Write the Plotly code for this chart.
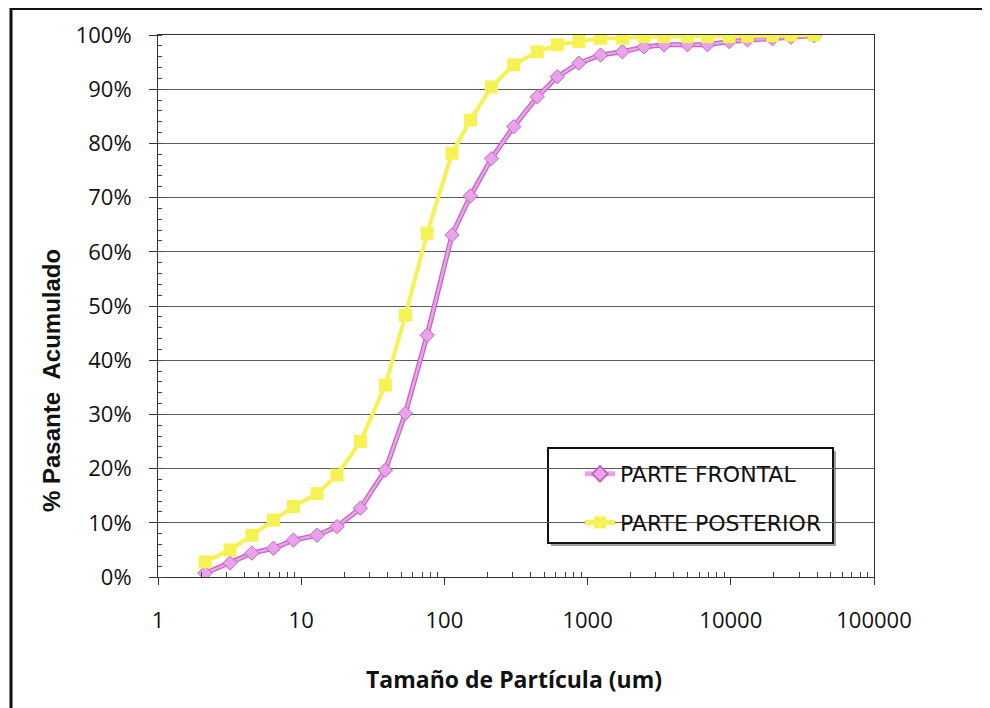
import plotly.graph_objects as go

# ---- data ----
tamano_um = [2.13, 3.19, 4.52, 6.4, 8.83, 12.9, 17.8, 25.9, 38.7, 53.4, 75.7, 113, 152, 213,
             305, 445, 614, 869, 1233, 1750, 2477, 3418, 4980, 6870, 9730, 13090, 19550,
             26300, 38280]
parte_frontal = [0.7, 2.6, 4.4, 5.3, 6.8, 7.7, 9.3, 12.7, 19.7, 30.2, 44.6, 63.1, 70.3, 77.2,
                 83.1, 88.6, 92.3, 94.8, 96.3, 96.9, 97.8, 98.2, 98.2, 98.2, 98.8, 99.1, 99.3,
                 99.6, 99.9]
parte_posterior = [2.8, 5.0, 7.7, 10.5, 13.0, 15.4, 18.8, 25.0, 35.4, 48.3, 63.4, 78.2, 84.3,
                   90.4, 94.5, 96.9, 98.2, 98.8, 99.4, 99.4, 99.7, 99.7, 99.7, 99.7, 99.7, 99.8,
                   99.9, 100, 100]
x_tickvals = [1, 10, 100, 1000, 10000, 100000]
x_ticktext = ["1", "10", "100", "1000", "10000", "100000"]
y_tickvals = [0, 10, 20, 30, 40, 50, 60, 70, 80, 90, 100]
y_ticktext = ["0%", "10%", "20%", "30%", "40%", "50%", "60%", "70%", "80%", "90%", "100%"]

# page body has an 8px margin: work in screen pixels and convert
OFF = 8
W, H = 990 - OFF, 708 - OFF
SL, SR, ST, SB = 158, 874, 35, 577          # plot area in screen pixels
L, R, T, B = SL - OFF, SR - OFF, ST - OFF, SB - OFF
pw, ph = R - L, B - T


def px_x(p):
    return (p - OFF - L) / pw


def px_y(p):
    return (B - (p - OFF)) / ph


PINK = "#eaa2ea"
PINK_EDGE = "#c266c2"
YELLOW = "#f7f254"

fig = go.Figure()
fig.add_trace(go.Scatter(
    x=tamano_um, y=parte_frontal, mode="lines", showlegend=False, hoverinfo="skip",
    line=dict(color=PINK_EDGE, width=5)))
fig.add_trace(go.Scatter(
    x=tamano_um, y=parte_frontal, mode="lines+markers", name="PARTE FRONTAL",
    legendgroup="a",
    line=dict(color=PINK, width=2.5),
    marker=dict(symbol="diamond", size=11, color=PINK, line=dict(color=PINK_EDGE, width=1))))
fig.add_trace(go.Scatter(
    x=tamano_um, y=parte_posterior, mode="lines+markers", name="PARTE POSTERIOR",
    legendgroup="b",
    line=dict(color=YELLOW, width=4),
    marker=dict(symbol="square", size=13, color=YELLOW)))

minor_x = [m * 10 ** d for d in range(0, 5) for m in range(2, 10)]

fig.update_xaxes(
    type="log", range=[0, 5], tickmode="array", tickvals=x_tickvals, ticktext=x_ticktext,
    showgrid=False, showline=True, linecolor="#333", linewidth=1, mirror=True,
    ticks="outside", ticklen=7, tickcolor="#333", ticklabelstandoff=17,
    tickfont=dict(family="Open Sans", size=22, color="#111"),
    minor=dict(tickmode="array", tickvals=minor_x, ticks="inside", ticklen=5,
               tickcolor="#444", showgrid=False),
    zeroline=False)
fig.update_yaxes(
    range=[0, 100], tickmode="array", tickvals=y_tickvals, ticktext=y_ticktext,
    showgrid=True, gridcolor="#5a5a5a", gridwidth=1,
    showline=True, linecolor="#333", linewidth=1, mirror=True,
    ticks="outside", ticklen=8, tickcolor="#333", ticklabelstandoff=13,
    tickfont=dict(family="Open Sans", size=22, color="#111"),
    minor=dict(dtick=2, ticks="inside", ticklen=4, tickcolor="#444", showgrid=False),
    zeroline=False)

fig.update_layout(
    width=W, height=H,
    margin=dict(l=L, r=W - R, t=T, b=H - B, pad=0),
    paper_bgcolor="white", plot_bgcolor="white",
    showlegend=True,
    legend=dict(
        x=px_x(580), y=px_y(453), xanchor="left", yanchor="top",
        bgcolor="rgba(0,0,0,0)", borderwidth=0,
        font=dict(family="DejaVu Sans", size=22, color="#111"),
        tracegroupgap=17, itemsizing="constant"),
    annotations=[
        dict(text="<b>Tamaño de Partícula (um)</b>", x=px_x(514), y=px_y(679),
             xref="paper", yref="paper", showarrow=False, xanchor="center", yanchor="middle",
             font=dict(family="Open Sans", size=23, color="#111")),
        dict(text="<b>% Pasante  Acumulado</b>", x=px_x(52), y=px_y(380),
             xref="paper", yref="paper", showarrow=False, xanchor="center", yanchor="middle",
             textangle=-90,
             font=dict(family="Liberation Sans Narrow, Liberation Sans", size=24, color="#111")),
    ],
    shapes=[
        # legend shadow + box
        dict(type="rect", xref="paper", yref="paper", x0=px_x(551), y0=px_y(546),
             x1=px_x(836), y1=px_y(451), line=dict(width=0), fillcolor="#a0a0a0",
             layer="between"),
        dict(type="rect", xref="paper", yref="paper", x0=px_x(548), y0=px_y(543),
             x1=px_x(833), y1=px_y(448), line=dict(color="#111", width=2), fillcolor="white",
             layer="between"),
        # outer frame
        dict(type="line", xref="paper", yref="paper", x0=px_x(11), x1=px_x(11),
             y0=px_y(8), y1=px_y(712), line=dict(color="#111", width=3)),
        dict(type="line", xref="paper", yref="paper", x0=px_x(10), x1=px_x(990),
             y0=px_y(9), y1=px_y(9), line=dict(color="#111", width=2)),
        dict(type="line", xref="paper", yref="paper", x0=px_x(988), x1=px_x(988),
             y0=px_y(9), y1=px_y(712), line=dict(color="#e4e4e4", width=1)),
    ],
)

fig.write_html("out.html")
